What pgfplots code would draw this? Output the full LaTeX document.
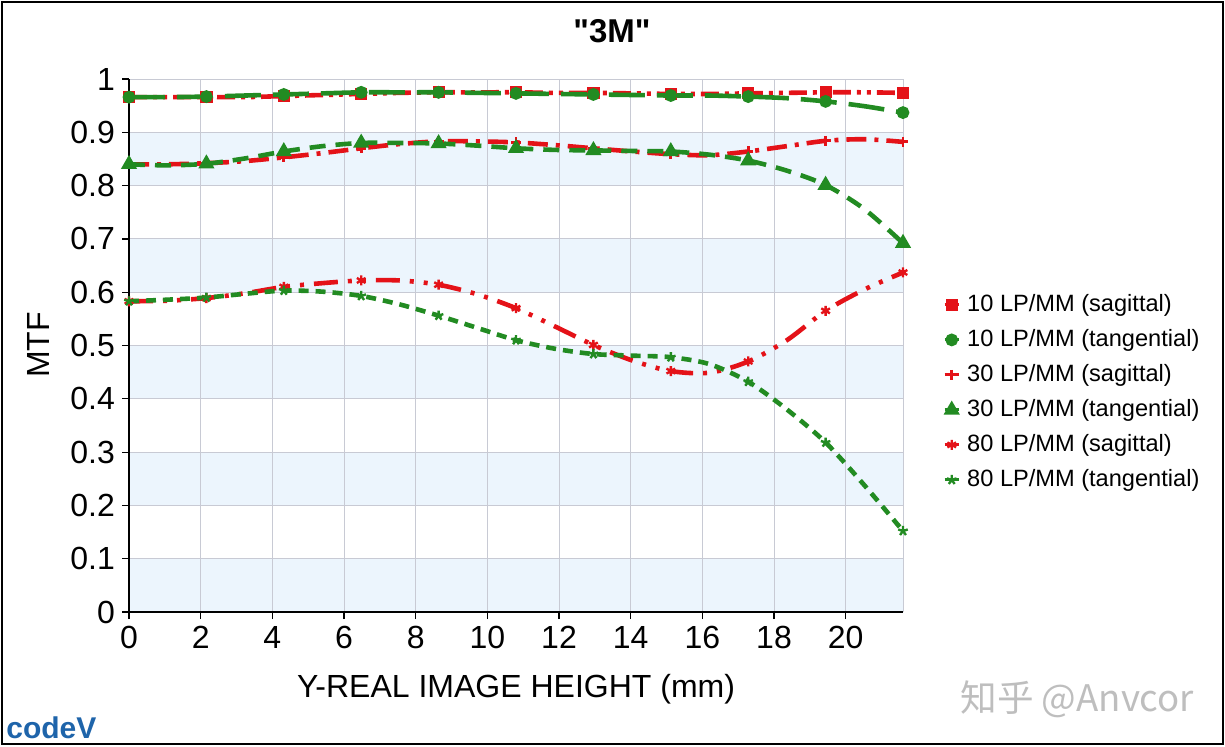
\documentclass[border=0pt]{standalone}
\usepackage{pgfplots}
\pgfplotsset{compat=1.18}
\usepackage{pgfplotstable}
\usepackage{fontspec}
\setmainfont{Liberation Sans}
\newfontfamily\titlefont{Liberation Sans}[Ligatures=TeXOff]
\newfontfamily\cjk{Noto Sans CJK SC}
\usetikzlibrary{plotmarks}
\definecolor{cvred}{RGB}{228,18,24}
\definecolor{cvgreen}{RGB}{34,139,34}
\definecolor{gridc}{RGB}{200,202,212}
\definecolor{bandc}{RGB}{236,245,253}
\definecolor{logoblue}{RGB}{30,100,170}
\definecolor{wmark}{RGB}{190,190,190}

\pgfplotstableread{
x     s10   t10   s30   t30   s80   t80
0.00  0.966 0.966 0.840 0.840 0.583 0.583
1.08  0.966 0.966 0.840 0.838 0.584 0.586
2.16  0.966 0.967 0.842 0.841 0.589 0.590
3.24  0.966 0.969 0.846 0.851 0.598 0.597
4.32  0.968 0.971 0.853 0.864 0.610 0.603
5.40  0.970 0.973 0.861 0.874 0.617 0.601
6.48  0.972 0.975 0.870 0.880 0.622 0.593
7.56  0.974 0.975 0.878 0.880 0.622 0.577
8.64  0.975 0.975 0.883 0.879 0.614 0.556
9.72  0.975 0.974 0.883 0.875 0.596 0.533
10.80 0.975 0.973 0.881 0.870 0.570 0.510
11.88 0.974 0.972 0.876 0.867 0.536 0.494
12.96 0.974 0.971 0.870 0.866 0.501 0.484
14.04 0.973 0.970 0.864 0.865 0.472 0.481
15.12 0.972 0.969 0.859 0.864 0.452 0.478
16.20 0.972 0.969 0.857 0.858 0.449 0.465
17.28 0.973 0.967 0.864 0.847 0.470 0.432
18.36 0.974 0.964 0.874 0.828 0.510 0.380
19.44 0.975 0.958 0.884 0.801 0.565 0.318
20.52 0.975 0.949 0.887 0.756 0.605 0.238
21.60 0.974 0.937 0.882 0.692 0.637 0.152
}\mtf

\begin{document}
\begin{tikzpicture}
\useasboundingbox (0,0) rectangle (612.5pt,373pt);
% background bands of the plot area (0-0.1, 0.2-0.3, ..., 0.8-0.9)
\foreach \k in {0,2,4,6,8}{
  \fill[bandc] (64.5pt,{67pt+26.65pt*\k}) rectangle (451.5pt,{67pt+26.65pt*(\k+1)});
}
\begin{axis}[
  at={(64.5pt,67pt)}, anchor=south west,
  scale only axis, width=387pt, height=266.5pt,
  xmin=0, xmax=21.6, ymin=0, ymax=1,
  xtick={0,2,4,6,8,10,12,14,16,18,20},
  ytick={0,0.1,0.2,0.3,0.4,0.5,0.6,0.7,0.8,0.9,1},
  extra x ticks={21.6}, extra x tick labels={},
  extra x tick style={major tick length=0pt},
  grid=major, major grid style={gridc, line width=0.5pt},
  axis x line*=bottom, axis y line*=left,
  axis line style={black, line width=0.6pt},
  tick align=outside, major tick length=3.5pt,
  tick style={black, line width=0.6pt},
  every tick label/.append style={font=\fontsize{16}{18}\selectfont},
  /pgf/number format/assume math mode=true,
  legend style={at={(1.0437,0.412)}, anchor=west, draw=none, fill=none,
    font=\fontsize{11.8}{14}\selectfont, row sep=6.4pt, column sep=3.5pt,
    nodes={inner sep=0pt, text height=8.6pt, text depth=2.5pt}},
  legend cell align=left,
  legend image code/.code={
    \draw[#1,solid,line width=1.5pt] (0pt,0pt) -- (7pt,0pt);
    \draw[#1,mark repeat=1] plot coordinates {(3.5pt,0pt)};
  },
]
\addplot[cvred, line width=2.3pt, smooth,
  dash pattern=on 9pt off 3pt on 2pt off 3pt on 2pt off 3pt,
  mark=square*, mark size=1.9pt, mark repeat=2, mark options={solid}]
  table[x=x,y=s10]{\mtf};
\addlegendentry{10 LP/MM (sagittal)}
\addplot[cvgreen, line width=2.3pt, smooth,
  dash pattern=on 18pt off 6pt,
  mark=*, mark size=2pt, mark repeat=2, mark options={solid}]
  table[x=x,y=t10]{\mtf};
\addlegendentry{10 LP/MM (tangential)}
\addplot[cvred, line width=2.3pt, smooth,
  dash pattern=on 10pt off 4pt on 2pt off 4pt,
  mark=+, mark size=2.5pt, mark repeat=2, mark options={solid, line width=1.4pt}]
  table[x=x,y=s30]{\mtf};
\addlegendentry{30 LP/MM (sagittal)}
\addplot[cvgreen, line width=2.3pt, smooth,
  dash pattern=on 8pt off 5pt,
  mark=triangle*, mark size=2.4pt, mark repeat=2, mark options={solid}]
  table[x=x,y=t30]{\mtf};
\addlegendentry{30 LP/MM (tangential)}
\addplot[cvred, line width=2.3pt, smooth,
  dash pattern=on 12pt off 5pt on 2pt off 5pt on 2pt off 5pt,
  mark=asterisk, mark size=2.5pt, mark repeat=2, mark options={solid, line width=1.2pt}]
  table[x=x,y=s80]{\mtf};
\addlegendentry{80 LP/MM (sagittal)}
\addplot[cvgreen, line width=2.3pt, smooth,
  dash pattern=on 5pt off 3.5pt,
  mark=star, mark size=2.5pt, mark repeat=2, mark options={solid, line width=1.2pt}]
  table[x=x,y=t80]{\mtf};
\addlegendentry{80 LP/MM (tangential)}
\end{axis}
\node[anchor=base, font=\titlefont\fontsize{16.5}{18}\selectfont\bfseries] at (306pt,351.5pt) {"3M"};
\node[anchor=base, font=\fontsize{16}{18}\selectfont] at (258pt,24.5pt) {Y-REAL IMAGE HEIGHT (mm)};
\node[anchor=base, rotate=90, font=\fontsize{16}{18}\selectfont] at (25pt,200.5pt) {MTF};
\node[anchor=base west, inner sep=0pt, font=\fontsize{15}{15}\selectfont\bfseries, text=logoblue] at (3pt,4pt) {codeV};
\node[anchor=base west, inner sep=0pt, font=\cjk\fontsize{18.3}{18}\selectfont, text=wmark] at (480pt,17.5pt) {知乎 @Anvcor};
\draw[black, line width=1pt] (0.9pt,0.9pt) rectangle (611.6pt,372.1pt);
\end{tikzpicture}
\end{document}
